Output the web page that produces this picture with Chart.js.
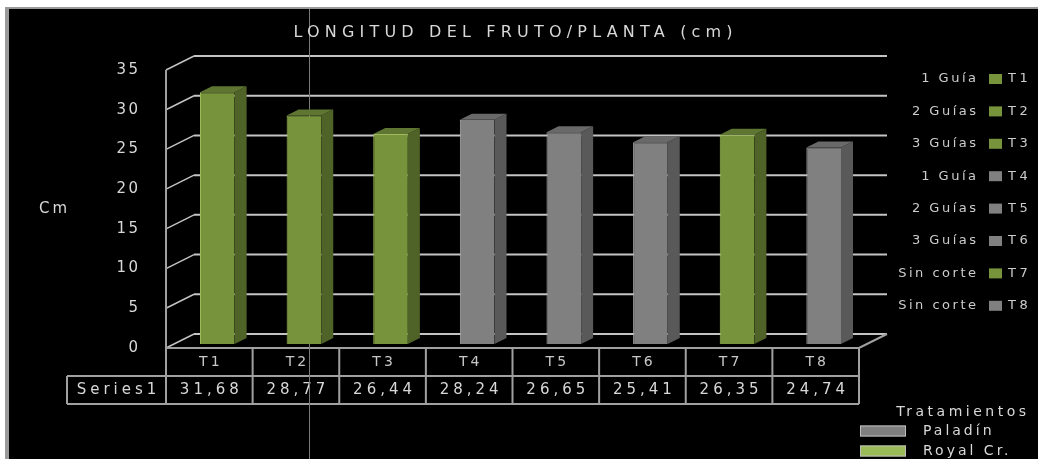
<!DOCTYPE html>
<html>
<head>
<meta charset="utf-8">
<title>Longitud del fruto/planta</title>
<script src="https://cdn.jsdelivr.net/npm/chart.js@4.4.1/dist/chart.umd.min.js"></script>
<style>
    html, body { margin: 0; padding: 0; background: #ffffff; }
    canvas { display: block; }
</style>
</head>
<body>
<canvas id="longitudChart" width="1038" height="459"></canvas>
<script>
// ==========================================
// Datos
// ==========================================
const tratamientos = ['T1', 'T2', 'T3', 'T4', 'T5', 'T6', 'T7', 'T8'];
const longitudFruto = [31.68, 28.77, 26.44, 28.24, 26.65, 25.41, 26.35, 24.74];
const variedadPorTratamiento = ['royal', 'royal', 'royal', 'paladin', 'paladin', 'paladin', 'royal', 'paladin'];
const guiasPorTratamiento = ['1 Guía', '2 Guías', '3 Guías', '1 Guía', '2 Guías', '3 Guías', 'Sin corte', 'Sin corte'];
const ticksY = [0, 5, 10, 15, 20, 25, 30, 35];
const nombreSerie = 'Series1';
const tituloGrafico = 'LONGITUD DEL FRUTO/PLANTA (cm)';
const tituloEjeY = 'Cm';
const tituloLeyenda = 'Tratamientos';
const nombresVariedad = { paladin: 'Paladín', royal: 'Royal Cr.' };

// Colores de las caras de cada barra (frente, lateral, tapa, borde)
const colores = {
    royal:   { frente: '#77933C', lado: '#4F6228', tapa: '#5E7631', borde: '#9DBB5C', muestra: '#9BBB59' },
    paladin: { frente: '#808080', lado: '#595959', tapa: '#696969', borde: '#ABABAB', muestra: '#7F7F7F' }
};
const colorTexto = '#D8D8D8';
const colorRejilla = '#C4C4C4';
const colorTabla = '#A0A0A0';

// Desplazamientos del efecto 3D respecto al plano de las barras
const planoFrente = { dx: -8, dy: 4 };
const planoFondo = { dx: 20, dy: -10 };
const profBarra = { dx: 12, dy: -6 };
const altoFila = 28;
const fuente = '"DejaVu Sans", sans-serif';

function texto(ctx, str, x, y, opts) {
    ctx.save();
    ctx.font = opts.font;
    ctx.fillStyle = opts.color || colorTexto;
    ctx.letterSpacing = (opts.espacio || 0) + 'px';
    ctx.textBaseline = 'middle';
    let w = ctx.measureText(str).width;
    ctx.textAlign = 'left';
    let x0 = x;
    if (opts.align === 'center') x0 = x - w / 2 + (opts.espacio || 0) / 2;
    if (opts.align === 'right') x0 = x - w + (opts.espacio || 0);
    ctx.fillText(str, x0, y);
    ctx.restore();
}

function linea(ctx, puntos, color, ancho) {
    ctx.save();
    ctx.strokeStyle = color;
    ctx.lineWidth = ancho;
    ctx.beginPath();
    ctx.moveTo(puntos[0][0], puntos[0][1]);
    for (let i = 1; i < puntos.length; i++) ctx.lineTo(puntos[i][0], puntos[i][1]);
    ctx.stroke();
    ctx.restore();
}

// ==========================================
// Plugin: fondo, paredes, tabla de datos y leyendas
// ==========================================
const plugin3D = {
    id: 'barras3D',
    beforeDraw(chart) {
        const { ctx, width, height } = chart;
        ctx.save();
        ctx.fillStyle = '#ffffff';
        ctx.fillRect(0, 0, width, height);
        ctx.fillStyle = '#9A9A9A';
        ctx.fillRect(5, 7, width - 5, height - 7);
        ctx.fillStyle = '#000000';
        ctx.fillRect(9, 9, width - 9, height - 9);
        ctx.restore();
    },
    beforeDatasetsDraw(chart) {
        const { ctx, chartArea: a, scales: { x, y } } = chart;
        const y0 = y.getPixelForValue(0);
        const yTop = y.getPixelForValue(ticksY[ticksY.length - 1]);

        // Pared del fondo y pared izquierda
        ticksY.forEach(v => {
            const py = y.getPixelForValue(v);
            linea(ctx, [[a.left + planoFrente.dx, py + planoFrente.dy], [a.left + planoFondo.dx, py + planoFondo.dy]], colorRejilla, 1.5);
            linea(ctx, [[a.left + planoFondo.dx, py + planoFondo.dy], [a.right + planoFondo.dx, py + planoFondo.dy]], colorRejilla, 2);
            // etiquetas del eje
            texto(ctx, String(v), a.left + planoFrente.dx - 28, py + planoFrente.dy, { font: '15px ' + fuente, espacio: 2.5, align: 'right' });
        });

        // Piso
        const yPiso = y0 + planoFrente.dy;
        linea(ctx, [[a.left + planoFrente.dx, yPiso], [a.right + planoFrente.dx, yPiso], [a.right + planoFondo.dx, y0 + planoFondo.dy]], colorTabla, 2);

        // Eje vertical frontal, continúa como borde de la tabla
        linea(ctx, [[a.left + planoFrente.dx, yTop + planoFrente.dy], [a.left + planoFrente.dx, yPiso + 2 * altoFila]], colorTabla, 2);

        // Tabla de datos
        const anchoCat = (a.right - a.left) / tratamientos.length;
        const bordes = [];
        for (let i = 0; i <= tratamientos.length; i++) bordes.push(a.left + planoFrente.dx + i * anchoCat);
        bordes.forEach(bx => linea(ctx, [[bx, yPiso], [bx, yPiso + 2 * altoFila]], colorTabla, 2));
        const xTabla = 67;
        linea(ctx, [[xTabla, yPiso + altoFila], [bordes[bordes.length - 1], yPiso + altoFila]], colorTabla, 2);
        linea(ctx, [[xTabla, yPiso + 2 * altoFila], [bordes[bordes.length - 1], yPiso + 2 * altoFila]], colorTabla, 2);
        linea(ctx, [[xTabla, yPiso + altoFila], [xTabla, yPiso + 2 * altoFila]], colorTabla, 2);

        texto(ctx, nombreSerie, (xTabla + bordes[0]) / 2, yPiso + altoFila * 1.5, { font: '15px ' + fuente, espacio: 4, align: 'center' });
        tratamientos.forEach((t, i) => {
            const cx = x.getPixelForValue(i) + planoFrente.dx;
            texto(ctx, t, cx, yPiso + altoFila * 0.5, { font: '14px ' + fuente, espacio: 3, align: 'center', color: '#C8C8C8' });
            const valor = longitudFruto[i].toFixed(2).replace('.', ',');
            texto(ctx, valor, cx, yPiso + altoFila * 1.5, { font: '15px ' + fuente, espacio: 4, align: 'center' });
        });

        // Título del eje Y
        texto(ctx, tituloEjeY, 53, (yTop + y0) / 2 + 4, { font: '15px ' + fuente, espacio: 3, align: 'center' });

        // Línea guía vertical fina
        linea(ctx, [[309.5, 9], [309.5, chart.height]], '#7A7A7A', 1);
    },
    afterDatasetsDraw(chart) {
        const { ctx } = chart;
        const meta = chart.getDatasetMeta(0);
        meta.data.forEach((barra, i) => {
            const { x: cx, y: top, base, width } = barra.getProps(['x', 'y', 'base', 'width'], true);
            const c = colores[variedadPorTratamiento[i]];
            const izq = cx - width / 2, der = cx + width / 2;
            ctx.save();
            // cara lateral
            ctx.fillStyle = c.lado;
            ctx.beginPath();
            ctx.moveTo(der, top);
            ctx.lineTo(der + profBarra.dx, top + profBarra.dy);
            ctx.lineTo(der + profBarra.dx, base + profBarra.dy);
            ctx.lineTo(der, base);
            ctx.closePath();
            ctx.fill();
            // tapa
            ctx.fillStyle = c.tapa;
            ctx.beginPath();
            ctx.moveTo(izq, top);
            ctx.lineTo(izq + profBarra.dx, top + profBarra.dy);
            ctx.lineTo(der + profBarra.dx, top + profBarra.dy);
            ctx.lineTo(der, top);
            ctx.closePath();
            ctx.fill();
            ctx.restore();
        });
    },
    afterDraw(chart) {
        const { ctx } = chart;
        // Título
        texto(ctx, tituloGrafico, 513, 33, { font: '16px ' + fuente, espacio: 5.2, align: 'center' });

        // Leyenda por tratamiento
        tratamientos.forEach((t, i) => {
            const ly = 79 + i * 32.4;
            const c = colores[variedadPorTratamiento[i]];
            texto(ctx, guiasPorTratamiento[i], 976, ly, { font: '13px ' + fuente, espacio: 2.5, align: 'right', color: '#CCCCCC' });
            ctx.fillStyle = c.frente;
            ctx.fillRect(989, ly - 5, 13, 10);
            texto(ctx, t, 1008, ly, { font: '13px ' + fuente, espacio: 3.5, color: '#CCCCCC' });
        });

        // Leyenda de variedades
        texto(ctx, tituloLeyenda, 1026, 412, { font: '14px ' + fuente, espacio: 3.5, align: 'right' });
        ['paladin', 'royal'].forEach((v, i) => {
            const ly = 431 + i * 20;
            ctx.save();
            ctx.fillStyle = colores[v].muestra;
            ctx.fillRect(860, ly - 5.5, 46, 11);
            ctx.strokeStyle = '#BDBDBD';
            ctx.lineWidth = 1;
            ctx.strokeRect(860.5, ly - 5, 45, 10);
            ctx.restore();
            texto(ctx, nombresVariedad[v], 923, ly, { font: '14px ' + fuente, espacio: 3 });
        });
    }
};

// ==========================================
// Gráfico
// ==========================================
const ctxLongitud = document.getElementById('longitudChart').getContext('2d');

const chartLongitud = new Chart(ctxLongitud, {
    type: 'bar',
    data: {
        labels: tratamientos,
        datasets: [{
            label: nombreSerie,
            data: longitudFruto,
            backgroundColor: variedadPorTratamiento.map(v => colores[v].frente),
            borderColor: variedadPorTratamiento.map(v => colores[v].borde),
            borderWidth: { left: 1, top: 1, right: 0, bottom: 0 },
            borderSkipped: false,
            barPercentage: 0.4,
            categoryPercentage: 1
        }]
    },
    options: {
        responsive: false,
        animation: false,
        layout: { padding: { left: 174, top: 66, right: 171, bottom: 115 } },
        scales: {
            x: { display: false, offset: true },
            y: { display: false, min: 0, max: 35 }
        },
        plugins: {
            legend: { display: false },
            title: { display: false },
            tooltip: { enabled: false }
        }
    },
    plugins: [plugin3D]
});
</script>
</body>
</html>
